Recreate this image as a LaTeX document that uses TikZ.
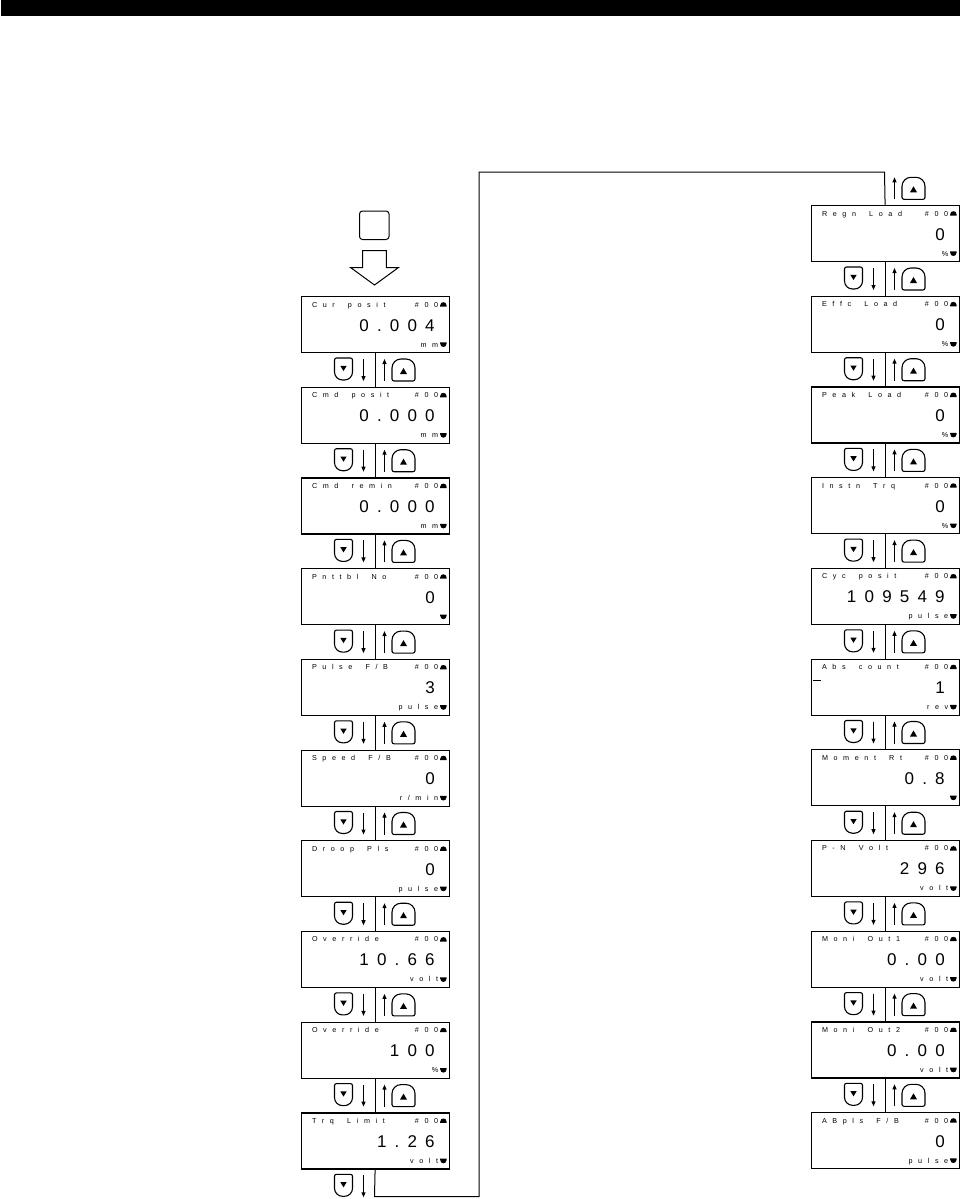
\documentclass[tikz,border=0pt]{standalone}
\usepackage{fontspec}
\newfontfamily\lcdfont{Liberation Sans}
\usetikzlibrary{arrows.meta}
\newlength\lcdgap
\def\lcdend{LCDEND}
\def\lcdspaced#1{\lcdfirst#1\lcdend}
\def\lcdfirst#1{\ifx#1\lcdend\else#1\expandafter\lcdrest\fi}
\def\lcdrest#1{\ifx#1\lcdend\else\kern\lcdgap#1\expandafter\lcdrest\fi}
\newcommand\smalltxt[1]{\lcdfont\fontsize{7.2}{8}\selectfont\setlength\lcdgap{5.6pt}\lcdspaced{#1}}
\newcommand\bigtxt[1]{\lcdfont\fontsize{17}{19}\selectfont\setlength\lcdgap{8.2pt}\lcdspaced{#1}}
\tikzset{
  dispbox/.style={draw, line width=1.2pt, anchor=north west, minimum width=148pt, minimum height=56pt, inner sep=0pt},
  txt/.style={inner sep=0pt, outer sep=0pt},
  btn/.style={line width=1.1pt},
  arr/.style={line width=1pt, -{Triangle[length=5pt,width=4pt]}},
  conn/.style={line width=1pt},
  dnbtn/.pic={
    \draw[btn] (-9,-3) -- (-9,9) arc[start angle=180,end angle=90,radius=2] -- (7,11) arc[start angle=90,end angle=0,radius=2] -- (9,-3) arc[start angle=0,end angle=-90,radius=8] -- (-1,-11) arc[start angle=-90,end angle=-180,radius=8] -- cycle;
    \fill (-3.2,3.2) -- (3.2,3.2) -- (0,-2) -- cycle;
  },
  upbtn/.pic={
    \draw[btn] (-11.5,2) -- (-11.5,-9) arc[start angle=180,end angle=270,radius=2] -- (9.5,-11) arc[start angle=270,end angle=360,radius=2] -- (11.5,2) arc[start angle=0,end angle=90,radius=9] -- (-2.5,11) arc[start angle=90,end angle=180,radius=9] -- cycle;
    \fill (-3.5,-4) -- (3.5,-4) -- (0,2) -- cycle;
  },
  bellmk/.pic={
    \fill (-3.2,0) -- (3.2,0) -- (3.2,1.2) .. controls (3.2,3.5) and (1.5,4.4) .. (0,4.4) .. controls (-1.5,4.4) and (-3.2,3.5) .. (-3.2,1.2) -- cycle;
  },
  shieldmk/.pic={
    \fill (-3.2,0) -- (3.2,0) -- (3.2,-1.2) .. controls (3.2,-3.5) and (1.5,-4.6) .. (0,-4.6) .. controls (-1.5,-4.6) and (-3.2,-3.5) .. (-3.2,-1.2) -- cycle;
  },
}
% name, left x, top y, label, value, unit
\newcommand\disp[6]{%
  \node[dispbox] (#1) at (#2,{-(#3)}) {};
  \node[txt, anchor=base west] (#1-lab) at ([shift={(11.5,-11)}]#1.north west) {\smalltxt{#4}};
  \node[txt, anchor=base east] (#1-num) at ([shift={(-11.5,-11)}]#1.north east) {\smalltxt{\#00}};
  \pic at ([shift={(-6.3,-10.6)}]#1.north east) {bellmk};
  \node[txt, anchor=base east] (#1-val) at ([shift={(-15,-35)}]#1.north east) {\bigtxt{#5}};
  \node[txt, anchor=base east] (#1-unit) at ([shift={(-11.5,-51)}]#1.north east) {\smalltxt{#6}};
  \pic at ([shift={(-6.3,-46.4)}]#1.north east) {shieldmk};
}
\newcommand\dnpair[2]{%
  \pic at ({#1-31},{-(#2+17)}) {dnbtn};
  \draw[arr] ({#1-11},{-(#2+7)}) -- ({#1-11},{-(#2+29)});
}
\newcommand\uppair[2]{%
  \pic at ({#1+29},{-(#2+18)}) {upbtn};
  \draw[arr] ({#1+10},{-(#2+29)}) -- ({#1+10},{-(#2+7)});
}
\begin{document}
\begin{tikzpicture}[x=1pt,y=1pt]
\useasboundingbox (0,0) rectangle (960,-1199);
\fill (0.5,0) rectangle (960,-16.5);

% key and hollow arrow
\node[draw, line width=1pt, rounded corners=3pt, minimum width=29.5pt, minimum height=28.5pt, inner sep=0pt] (key) at (374.25,-225.25) {};
\draw[line width=1pt] (362.7,-250.5) -- (386.3,-250.5) -- (386.3,-267.5) -- (398.5,-267.5) -- (374.5,-285) -- (350.5,-267.5) -- (362.7,-267.5) -- cycle;

% left column
\disp{L0}{300.5}{296+0*90.7}{Cur~posit}{0.004}{mm}
\disp{L1}{300.5}{296+1*90.7}{Cmd~posit}{0.000}{mm}
\disp{L2}{300.5}{296+2*90.7}{Cmd~remin}{0.000}{mm}
\disp{L3}{300.5}{296+3*90.7}{Pnttbl~No}{0}{}
\disp{L4}{300.5}{296+4*90.7}{Pulse~F/B}{3}{pulse}
\disp{L5}{300.5}{296+5*90.7}{Speed~F/B}{0}{r/min}
\disp{L6}{300.5}{296+6*90.7}{Droop~Pls}{0}{pulse}
\disp{L7}{300.5}{296+7*90.7}{Override}{10.66}{volt}
\disp{L8}{300.5}{296+8*90.7}{Override}{100}{\%}
\disp{L9}{300.5}{296+9*90.7}{Trq~Limit}{1.26}{volt}

% right column
\disp{R0}{810.5}{205+0*90.7}{Regn~Load}{0}{\%}
\disp{R1}{810.5}{205+1*90.7}{Effc~Load}{0}{\%}
\disp{R2}{810.5}{205+2*90.7}{Peak~Load}{0}{\%}
\disp{R3}{810.5}{205+3*90.7}{Instn~Trq}{0}{\%}
\disp{R4}{810.5}{205+4*90.7}{Cyc~posit}{109549}{pulse}
\disp{R5}{810.5}{205+5*90.7}{Abs~count}{1}{rev}
\disp{R6}{810.5}{205+6*90.7}{Moment~Rt}{0.8}{}
\disp{R7}{810.5}{205+7*90.7}{P-N~Volt}{296}{volt}
\disp{R8}{810.5}{205+8*90.7}{Moni~Out1}{0.00}{volt}
\disp{R9}{810.5}{205+9*90.7}{Moni~Out2}{0.00}{volt}
\disp{R10}{810.5}{205+10*90.7}{ABpls~F/B}{0}{pulse}
\draw[line width=1pt] ([shift={(2.5,-21.7)}]R5.north west) -- ++(7.5,0);

% dividers and buttons, left
\foreach \i in {0,...,8}{
  \pgfmathtruncatemacro\j{\i+1}
  \draw[conn] (L\i.south) -- (L\j.north);
  \pgfmathsetmacro\bb{296+\i*90.7+56}
  \dnpair{374.5}{\bb}
  \uppair{374.5}{\bb}
}
% dividers and buttons, right
\foreach \i in {0,...,9}{
  \pgfmathtruncatemacro\j{\i+1}
  \draw[conn] (R\i.south) -- (R\j.north);
  \pgfmathsetmacro\bb{205+\i*90.7+56}
  \dnpair{884.5}{\bb}
  \uppair{884.5}{\bb}
}
% loop back
\dnpair{374.5}{296+9*90.7+56}
\uppair{884.5}{205-34.7}
\coordinate (lb) at (374.5,-1196.5);
\coordinate (lbr) at (479,-1196.5);
\coordinate (ltr) at (479,-172);
\coordinate (ltl) at (884.5,-172);
\draw[conn] (L9.south) -- (lb) -- (lbr) -- (ltr) -- (ltl) -- (R0.north);
\end{tikzpicture}
\end{document}
